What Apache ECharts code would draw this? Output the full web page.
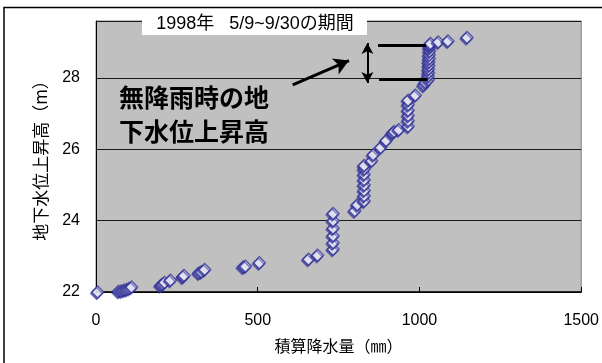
<!DOCTYPE html>
<html>
<head>
<meta charset="utf-8">
<script src="https://cdn.jsdelivr.net/npm/echarts@6/dist/echarts.min.js"></script>
<style>
  html, body { margin: 0; padding: 0; background: #fff; }
  #chart { width: 602px; height: 363px; }
</style>
</head>
<body>
<div id="chart"></div>
<script>
// Cumulative precipitation (mm) and groundwater level (m), 1998-05-09 .. 09-30
const rainfall = [
  5, 70, 78, 86, 94, 102, 110,
  200, 205, 212, 230, 268, 272, 318, 326, 336,
  455, 462, 505, 657, 685,
  733, 733, 733, 733, 733, 733,
  800, 808,
  829, 829, 829, 829, 829, 829, 829, 829,
  852, 857, 880, 897, 916, 922, 936,
  965, 965, 965, 965, 965, 965,
  987, 1013, 1018,
  1027, 1027, 1028, 1028, 1029, 1029, 1030, 1030, 1031, 1031, 1032,
  1034, 1058, 1088, 1147
];
const groundwater = [
  22.00, 22.02, 22.03, 22.05, 22.07, 22.10, 22.14,
  22.18, 22.22, 22.27, 22.33, 22.42, 22.46, 22.53, 22.57, 22.63,
  22.70, 22.72, 22.82, 22.92, 23.03,
  23.20, 23.38, 23.58, 23.79, 24.00, 24.20,
  24.28, 24.45,
  24.55, 24.70, 24.85, 25.00, 25.15, 25.30, 25.45, 25.55,
  25.68, 25.85, 26.05, 26.25, 26.45, 26.50, 26.55,
  26.65, 26.80, 26.95, 27.10, 27.25, 27.38,
  27.52, 27.80, 27.88,
  27.95, 28.05, 28.15, 28.25, 28.35, 28.45, 28.55, 28.65, 28.75, 28.85, 28.92,
  28.97, 29.01, 29.04, 29.14
];

// Axis ranges and ticks
const xTicks = [0, 500, 1000, 1500];
const yTicks = [22, 24, 26, 28];
const yTop = 29.6;

// Annotation: rise of the water level during a dry spell
const riseUpper = 28.93;
const riseLower = 27.97;
const riseBracketX = [[872, 1020], [875, 1025]];
const riseArrowX = 839;
const pointerFrom = [608, 27.81];
const pointerTo = [782, 28.49];

const periodLabel = '1998年   5/9~9/30の期間';
const noteLines = ['無降雨時の地', '下水位上昇高'];

const latin = '"Liberation Sans", "Noto Sans CJK JP", sans-serif';
const cjk = '"Noto Sans CJK JP", "Liberation Sans", sans-serif';

const chart = echarts.init(document.getElementById('chart'), null, { renderer: 'canvas' });

const points = rainfall.map((x, i) => [x, groundwater[i]]);

chart.setOption({
  animation: false,
  backgroundColor: '#fff',
  grid: {
    left: 96, right: 19, top: 21, bottom: 71,
    show: true,
    backgroundColor: '#c0c0c0',
    borderColor: '#808080',
    borderWidth: 1
  },
  xAxis: {
    type: 'value',
    min: xTicks[0], max: xTicks[xTicks.length - 1], interval: 500,
    name: '積算降水量（㎜）',
    nameLocation: 'middle',
    nameGap: 46,
    nameTextStyle: { fontFamily: cjk, fontSize: 16, color: '#000' },
    axisLine: { show: true, lineStyle: { color: '#000', width: 1.5 } },
    axisTick: { show: true, inside: true, length: 5, lineStyle: { color: '#000' } },
    axisLabel: {
      margin: 21, fontFamily: latin, fontSize: 16, color: '#000',
      formatter: (v) => String(v)
    },
    splitLine: { show: false }
  },
  yAxis: {
    type: 'value',
    min: yTicks[0], max: yTop, interval: 2,
    name: '地下水位上昇高（m）',
    nameLocation: 'middle',
    nameRotate: 90,
    nameGap: 47,
    nameTextStyle: { fontFamily: cjk, fontSize: 17, color: '#000' },
    axisLine: { show: true, lineStyle: { color: '#000', width: 1 } },
    axisTick: { show: false },
    axisLabel: {
      margin: 16, fontFamily: latin, fontSize: 16, color: '#000', showMaxLabel: false,
      formatter: (v) => String(v)
    },
    splitLine: { show: true, lineStyle: { color: '#1a1a1a', width: 1 } }
  },
  series: [
    {
      type: 'scatter',
      data: points,
      symbol: 'diamond',
      symbolSize: 12,
      itemStyle: {
        color: '#ffffff',
        borderColor: '#333399',
        borderWidth: 1.4,
        shadowColor: 'rgba(51,51,153,0.75)',
        shadowOffsetX: -1,
        shadowOffsetY: 1.5,
        shadowBlur: 0
      },
      z: 3
    },
    {
      // Bracket lines, double arrow and pointer for the annotation
      type: 'line',
      data: [],
      silent: true,
      z: 4,
      markLine: {
        silent: true,
        animation: false,
        label: { show: false },
        emphasis: { disabled: true },
        data: [
          [
            { coord: [riseBracketX[0][0], riseUpper], symbol: 'none', lineStyle: { color: '#000', width: 3, type: 'solid' } },
            { coord: [riseBracketX[0][1], riseUpper], symbol: 'none' }
          ],
          [
            { coord: [riseBracketX[1][0], riseLower], symbol: 'none', lineStyle: { color: '#000', width: 3, type: 'solid' } },
            { coord: [riseBracketX[1][1], riseLower], symbol: 'none' }
          ],
          [
            { coord: [riseArrowX, riseUpper + 0.05], symbol: 'arrow', symbolSize: [9, 11], lineStyle: { color: '#000', width: 2, type: 'solid' } },
            { coord: [riseArrowX, riseLower - 0.11], symbol: 'arrow', symbolSize: [9, 11] }
          ],
          [
            { coord: pointerFrom, symbol: 'none', lineStyle: { color: '#000', width: 3, type: 'solid' } },
            { coord: pointerTo, symbol: 'arrow', symbolSize: [13, 15] }
          ]
        ]
      }
    }
  ],
  graphic: [
    {
      type: 'rect',
      silent: true,
      shape: { x: 4, y: 7.5, width: 700, height: 500 },
      style: { fill: 'none', stroke: '#000', lineWidth: 1.5 },
      z: 0
    },
    {
      type: 'rect',
      silent: true,
      shape: { x: 142, y: 10, width: 225, height: 25 },
      style: { fill: '#fff', stroke: 'none' },
      z: 10
    },
    {
      type: 'text',
      silent: true,
      x: 255, y: 24,
      style: {
        text: periodLabel,
        fontFamily: latin, fontSize: 18, fill: '#000',
        align: 'center', verticalAlign: 'middle'
      },
      z: 11
    },
    {
      type: 'text',
      silent: true,
      x: 119, y: 97,
      style: {
        text: noteLines[0],
        fontFamily: cjk, fontSize: 25, fontWeight: 'bold', fill: '#000',
        align: 'left', verticalAlign: 'middle'
      },
      z: 11
    },
    {
      type: 'text',
      silent: true,
      x: 119, y: 131,
      style: {
        text: noteLines[1],
        fontFamily: cjk, fontSize: 25, fontWeight: 'bold', fill: '#000',
        align: 'left', verticalAlign: 'middle'
      },
      z: 11
    }
  ]
});
</script>
</body>
</html>
